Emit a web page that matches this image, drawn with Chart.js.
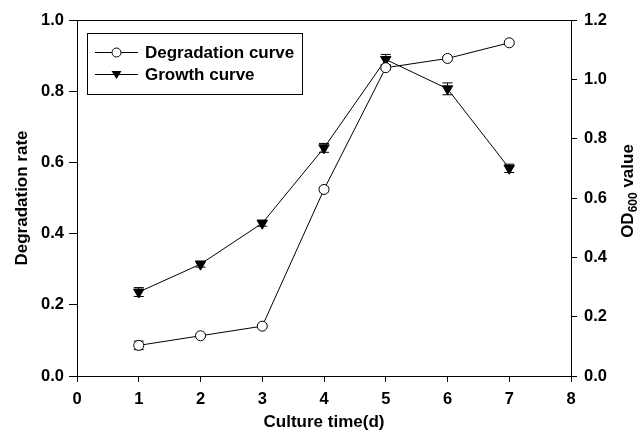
<!DOCTYPE html>
<html>
<head>
<meta charset="utf-8">
<script src="https://cdn.jsdelivr.net/npm/chart.js@4.4.1/dist/chart.umd.min.js"></script>
<style>
  body { margin: 0; background: #fff; }
  #chart { display: block; }
</style>
</head>
<body>
<canvas id="chart" width="637" height="438"></canvas>
<script>
// data
const days = [1, 2, 3, 4, 5, 6, 7];
const degradation = [0.086, 0.113, 0.140, 0.524, 0.866, 0.892, 0.936];
const degradationErr = [0.012, 0.005, 0.004, 0.006, 0.006, 0.005, 0.004];
const growth = [0.283, 0.377, 0.515, 0.769, 1.067, 0.968, 0.700];
const growthErr = [0.015, 0.010, 0.010, 0.015, 0.017, 0.020, 0.014];

const xTicks = [0, 1, 2, 3, 4, 5, 6, 7, 8];
const leftTicks = [0, 0.2, 0.4, 0.6, 0.8, 1.0];
const rightTicks = [0, 0.2, 0.4, 0.6, 0.8, 1.0, 1.2];

const FONT = "'Liberation Sans', Arial, sans-serif";
const tickFont = { family: FONT, size: 16.5, weight: "bold" };
const titleFont = { family: FONT, size: 17, weight: "bold" };

// error bars, drawn through the scales
const errorBars = {
    id: "errorBars",
    beforeDatasetsDraw(chart) {
        const ctx = chart.ctx;
        chart.data.datasets.forEach(ds => {
            if (!ds.errors) return;
            const xs = chart.scales.x;
            const ys = chart.scales[ds.yAxisID];
            ctx.save();
            ctx.strokeStyle = "#000";
            ctx.lineWidth = 1;
            ds.data.forEach((p, i) => {
                const e = ds.errors[i];
                const x = xs.getPixelForValue(p.x);
                const y1 = ys.getPixelForValue(p.y + e);
                const y2 = ys.getPixelForValue(p.y - e);
                ctx.beginPath();
                ctx.moveTo(x, y1); ctx.lineTo(x, y2);
                ctx.moveTo(x - 5, y1); ctx.lineTo(x + 5, y1);
                ctx.moveTo(x - 5, y2); ctx.lineTo(x + 5, y2);
                ctx.stroke();
            });
            ctx.restore();
        });
    }
};

// frame top, legend box, right axis title with subscript
const extras = {
    id: "extras",
    afterDraw(chart) {
        const ctx = chart.ctx;
        const a = chart.chartArea;
        ctx.save();
        ctx.strokeStyle = "#000";
        ctx.lineWidth = 1;
        ctx.beginPath();
        ctx.moveTo(a.left, a.top + 0.5);
        ctx.lineTo(a.right, a.top + 0.5);
        ctx.stroke();

        // legend
        const bx = 87.5, by = 33.5, bw = 215, bh = 61;
        ctx.fillStyle = "#fff";
        ctx.fillRect(bx, by, bw, bh);
        ctx.strokeRect(bx, by, bw, bh);
        const rows = [
            { label: "Degradation curve", y: 52, style: "circle" },
            { label: "Growth curve", y: 74, style: "tri" }
        ];
        rows.forEach(r => {
            ctx.beginPath();
            ctx.moveTo(95, r.y + 0.5);
            ctx.lineTo(138, r.y + 0.5);
            ctx.stroke();
            const mx = 116.5, my = r.y + 0.5;
            ctx.beginPath();
            if (r.style === "circle") {
                ctx.arc(mx, my, 4.5, 0, Math.PI * 2);
                ctx.fillStyle = "#fff";
                ctx.fill();
                ctx.stroke();
            } else {
                ctx.moveTo(mx - 5, my - 3.5);
                ctx.lineTo(mx + 5, my - 3.5);
                ctx.lineTo(mx, my + 4.5);
                ctx.closePath();
                ctx.fillStyle = "#000";
                ctx.fill();
            }
            ctx.fillStyle = "#000";
            ctx.font = "bold 17px " + FONT;
            ctx.textBaseline = "middle";
            ctx.textAlign = "left";
            ctx.fillText(r.label, 145, r.y + 1);
        });

        // right axis title: OD600 value
        ctx.translate(628, 191);
        ctx.rotate(-Math.PI / 2);
        ctx.textBaseline = "middle";
        ctx.textAlign = "left";
        const big = "bold 17px " + FONT, small = "bold 12px " + FONT;
        ctx.font = big;
        const w1 = ctx.measureText("OD").width;
        const w3 = ctx.measureText(" value").width;
        ctx.font = small;
        const w2 = ctx.measureText("600").width;
        let x0 = -(w1 + w2 + w3) / 2;
        ctx.font = big;
        ctx.fillText("OD", x0, 0);
        ctx.font = small;
        ctx.fillText("600", x0 + w1, 6);
        ctx.font = big;
        ctx.fillText(" value", x0 + w1 + w2, 0);
        ctx.restore();
    }
};

new Chart(document.getElementById("chart"), {
    type: "line",
    data: {
        datasets: [
            {
                label: "Degradation curve",
                data: days.map((d, i) => ({ x: d, y: degradation[i] })),
                errors: degradationErr,
                yAxisID: "y",
                borderColor: "#000",
                borderWidth: 1,
                backgroundColor: "#fff",
                pointStyle: "circle",
                pointRadius: 5,
                pointBorderWidth: 1,
                pointBorderColor: "#000",
                pointBackgroundColor: "#fff",
                tension: 0
            },
            {
                label: "Growth curve",
                data: days.map((d, i) => ({ x: d, y: growth[i] })),
                errors: growthErr,
                yAxisID: "y2",
                borderColor: "#000",
                borderWidth: 1,
                backgroundColor: "#000",
                pointStyle: "triangle",
                pointRotation: 180,
                pointRadius: 6,
                pointBorderWidth: 1,
                pointBorderColor: "#000",
                pointBackgroundColor: "#000",
                tension: 0
            }
        ]
    },
    options: {
        responsive: false,
        animation: false,
        layout: { padding: { top: 20, left: 0, right: 0, bottom: 0 } },
        plugins: { legend: { display: false }, tooltip: { enabled: false } },
        scales: {
            x: {
                type: "linear",
                min: 0, max: 8,
                afterFit: s => { s.height = 62; },
                afterBuildTicks: s => { s.ticks = xTicks.map(v => ({ value: v })); },
                grid: { drawOnChartArea: false, tickLength: 6, color: "#000" },
                border: { color: "#000", width: 1 },
                ticks: { color: "#000", font: tickFont, padding: 8, maxRotation: 0 },
                title: {
                    display: true, text: "Culture time(d)", color: "#000",
                    font: titleFont, padding: { top: 0, bottom: 5 }
                }
            },
            y: {
                position: "left",
                min: 0, max: 1,
                afterFit: s => { s.width = 77; },
                afterBuildTicks: s => { s.ticks = leftTicks.map(v => ({ value: v })); },
                grid: { drawOnChartArea: false, tickLength: 8, color: "#000" },
                border: { color: "#000", width: 1 },
                ticks: { color: "#000", font: tickFont, padding: 5, callback: v => v.toFixed(1) },
                title: {
                    display: true, text: "Degradation rate", color: "#000",
                    font: titleFont, padding: { top: 12, bottom: 0 }
                }
            },
            y2: {
                position: "right",
                min: 0, max: 1.2,
                afterFit: s => { s.width = 66; },
                afterBuildTicks: s => { s.ticks = rightTicks.map(v => ({ value: v })); },
                grid: { drawOnChartArea: false, tickLength: 6, color: "#000" },
                border: { color: "#000", width: 1 },
                ticks: { color: "#000", font: tickFont, padding: 7, callback: v => v.toFixed(1) }
            }
        }
    },
    plugins: [errorBars, extras]
});
</script>
</body>
</html>
